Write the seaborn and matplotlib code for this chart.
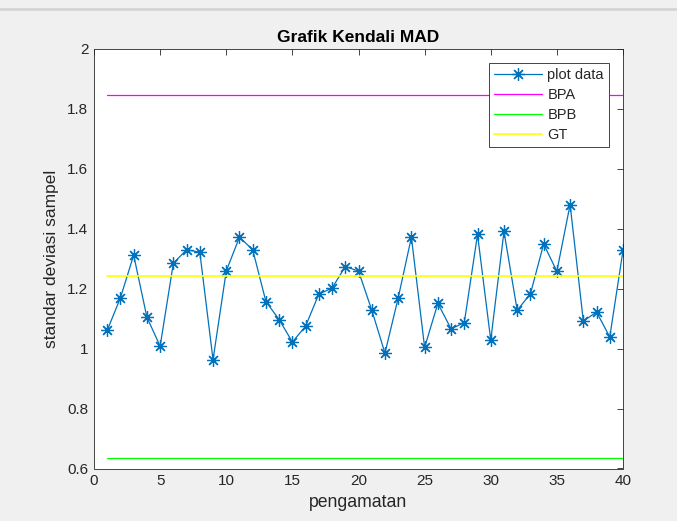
import numpy as np
import pandas as pd
import matplotlib
matplotlib.use("Agg")
import matplotlib.pyplot as plt
import seaborn as sns
from matplotlib.lines import Line2D

# ---- data ----
pengamatan = list(range(1, 41))
plot_data = [1.061, 1.170, 1.312, 1.105, 1.008, 1.285, 1.330, 1.322, 0.963, 1.259,
             1.372, 1.330, 1.157, 1.097, 1.022, 1.075, 1.182, 1.202, 1.274, 1.259,
             1.129, 0.985, 1.169, 1.372, 1.004, 1.151, 1.066, 1.087, 1.381, 1.028,
             1.391, 1.128, 1.183, 1.349, 1.258, 1.481, 1.092, 1.122, 1.039, 1.328]
BPA = 1.848
BPB = 0.636
GT = 1.241
limit_x = [1, 40]
series_names = ["plot data", "BPA", "BPB", "GT"]
x_ticks = [0, 5, 10, 15, 20, 25, 30, 35, 40]
y_ticks = [0.6, 0.8, 1.0, 1.2, 1.4, 1.6, 1.8, 2.0]
y_tick_labels = ["0.6", "0.8", "1", "1.2", "1.4", "1.6", "1.8", "2"]

sns.set_style("white")
plt.rcParams['font.family'] = ['Liberation Sans', 'DejaVu Sans']

fig = plt.figure(figsize=(6.77, 5.21), dpi=100, facecolor="#f0f0f0")
ax = fig.add_axes([94/677, 1 - 468.5/521, (623 - 94)/677, (468.5 - 49)/521])
ax.set_facecolor("white")

blue = "#0072BD"
asterisk = (8, 2, 0)
df = pd.DataFrame({"x": pengamatan, "y": plot_data})
sns.lineplot(data=df, x="x", y="y", ax=ax, color=blue, linewidth=0.9,
             marker=asterisk, markersize=9, markeredgecolor=blue, markerfacecolor="none",
             markeredgewidth=0.9)
sns.lineplot(x=limit_x, y=[BPA, BPA], ax=ax, color="#ff00ff", linewidth=0.9)
sns.lineplot(x=limit_x, y=[BPB, BPB], ax=ax, color="#00ff00", linewidth=0.9)
sns.lineplot(x=limit_x, y=[GT, GT], ax=ax, color="#ffff00", linewidth=1.2)

ax.set_xlim(0, 40)
ax.set_ylim(0.6, 2.0)
ax.set_xticks(x_ticks)
ax.set_xticklabels([str(t) for t in x_ticks])
ax.set_yticks(y_ticks)
ax.set_yticklabels(y_tick_labels)

spine_c = "#262626"
for s in ax.spines.values():
    s.set_color(spine_c)
    s.set_linewidth(0.6)
ax.tick_params(direction="in", length=4, width=0.6, colors=spine_c,
               labelsize=11, top=True, right=True, pad=4)
for lbl in ax.get_xticklabels() + ax.get_yticklabels():
    lbl.set_color(spine_c)

ax.set_title("Grafik Kendali MAD", fontsize=12.5, fontweight="bold", color="black", pad=5)
ax.set_xlabel("pengamatan", fontsize=12.7, color=spine_c, labelpad=4)
ax.set_ylabel("standar deviasi sampel", fontsize=12.5, color=spine_c, labelpad=6)

handles = [
    Line2D([], [], color=blue, linewidth=0.9, marker=asterisk, markersize=9,
           markeredgewidth=0.9, markerfacecolor="none"),
    Line2D([], [], color="#ff00ff", linewidth=0.9),
    Line2D([], [], color="#00ff00", linewidth=0.9),
    Line2D([], [], color="#ffff00", linewidth=1.2),
]
leg = ax.legend(handles, series_names, loc="upper right", bbox_to_anchor=(0.9735, 0.967),
                fontsize=10.5, frameon=True, fancybox=False, framealpha=1,
                edgecolor=spine_c, handlelength=3.3, handletextpad=0.35,
                labelspacing=0.42, borderpad=0.35, borderaxespad=0.0)
leg.get_frame().set_linewidth(0.6)

# window decoration
fig.add_artist(Line2D([0, 1], [1 - 9/521, 1 - 9/521], color="#d4d4d4", linewidth=2,
                      transform=fig.transFigure))

fig.savefig("out.png", dpi=100, facecolor=fig.get_facecolor())
